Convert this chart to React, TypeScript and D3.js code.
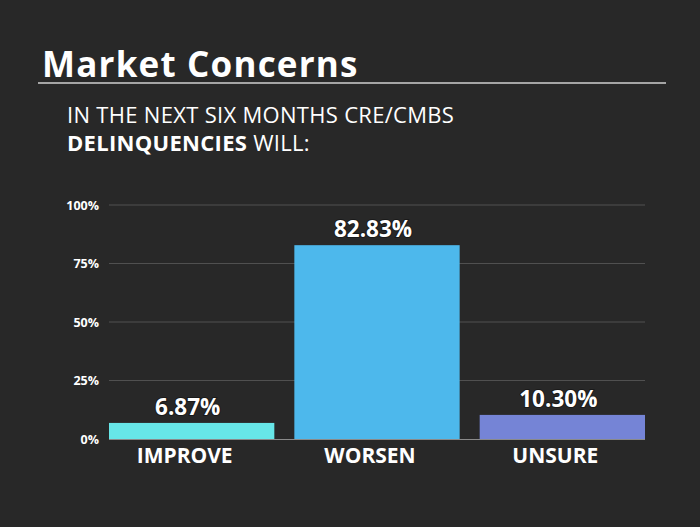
import React from "react";
import * as d3 from "d3";

const categories = ["IMPROVE", "WORSEN", "UNSURE"];
const values = [6.87, 82.83, 10.3];
const valueLabels = ["6.87%", "82.83%", "10.30%"];
const barColors = ["#67e6e8", "#4db8ec", "#7584d6"];
const tickValues = [0, 25, 50, 75, 100];

const W = 700;
const H = 527;
const FONT = "'Open Sans', 'Noto Sans', sans-serif";

export default function App() {
  const x = d3.scaleBand<string>().domain(categories).range([109, 645]).paddingInner(0.108).paddingOuter(0);
  const y = d3.scaleLinear().domain([0, 100]).range([439, 205]);

  return (
    <svg width={W} height={H} style={{ position: "absolute", left: 0, top: 0, display: "block" }} fontFamily={FONT}>
      <rect x={0} y={0} width={W} height={H} fill="#282828" />
      <text x={42} y={77} fill="#ffffff" fontSize={35} fontWeight={700} letterSpacing={1.2}>Market Concerns</text>
      <line x1={38} x2={666} y1={83} y2={83} stroke="#cfcfcf" strokeWidth={1.5} />
      <text x={67} y={123} fill="#ffffff" fontSize={22} letterSpacing={0.3}>IN THE NEXT SIX MONTHS CRE/CMBS</text>
      <text x={67} y={151} fill="#ffffff" fontSize={22} letterSpacing={0.3}>
        <tspan fontWeight={700}>DELINQUENCIES</tspan> WILL:
      </text>

      {tickValues.map((t) => (
        <g key={t}>
          {t > 0 && <line x1={109} x2={645} y1={y(t)} y2={y(t)} stroke="#505050" strokeWidth={1} />}
          <text x={99} y={y(t) + 4.5} textAnchor="end" fill="#ffffff" fontSize={12.5} fontWeight={700}>{t}%</text>
        </g>
      ))}
      <line x1={109} x2={645} y1={y(0) + 0.5} y2={y(0) + 0.5} stroke="#8a8a8a" strokeWidth={1} />

      {categories.map((c, i) => (
        <g key={c}>
          <rect
            x={x(c)!}
            y={y(values[i])}
            width={x.bandwidth()}
            height={y(0) - y(values[i])}
            fill={barColors[i]}
          />
          <text
            x={x(c)! + x.bandwidth() / 2 - 4}
            y={y(values[i]) - 8}
            textAnchor="middle"
            fill="#ffffff"
            fontSize={22.5}
            fontWeight={700}
            stroke="#1a1a1a"
            strokeWidth={2}
            paintOrder="stroke"
          >
            {valueLabels[i]}
          </text>
          <text
            x={x(c)! + x.bandwidth() / 2 - 7}
            y={463}
            textAnchor="middle"
            fill="#ffffff"
            fontSize={21}
            fontWeight={700}
          >
            {c}
          </text>
        </g>
      ))}
    </svg>
  );
}
